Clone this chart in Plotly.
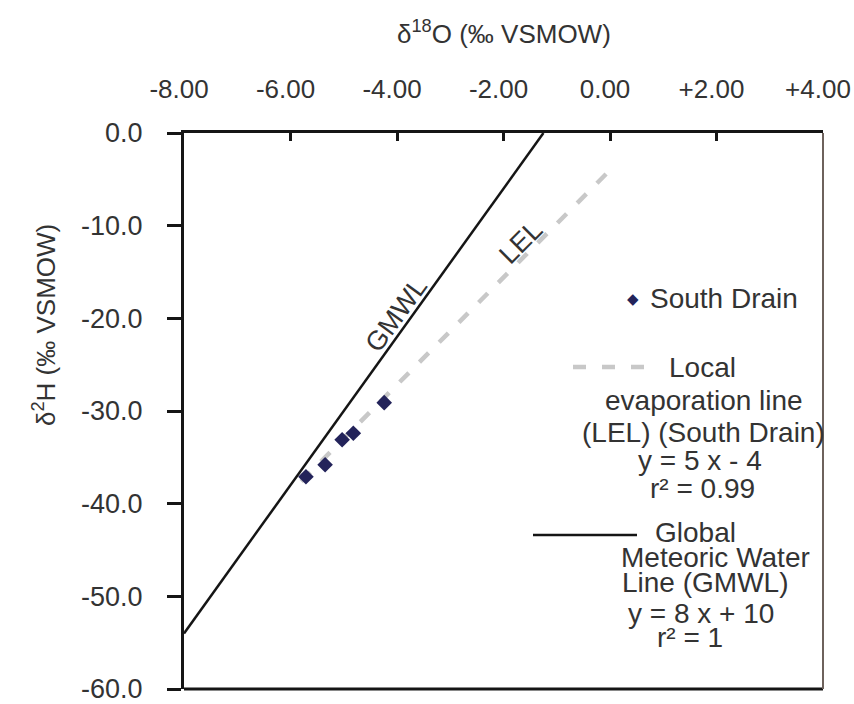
import plotly.graph_objects as go

# ---- data ----
drain_x = [-4.24, -4.82, -5.03, -5.35, -5.71]
drain_y = [-29.1, -32.4, -33.1, -35.8, -37.1]

gmwl_x = [-8.0, -1.25]
gmwl_y = [-54.0, 0.0]

lel_x = [-5.8, 0.0]
lel_y = [-37.6, -4.0]

x_tickvals = [-8, -6, -4, -2, 0, 2, 4]
x_ticktext = ["-8.00", "-6.00", "-4.00", "-2.00", "0.00", "+2.00", "+4.00"]
y_tickvals = [0, -10, -20, -30, -40, -50, -60]
y_ticktext = ["0.0", "-10.0", "-20.0", "-30.0", "-40.0", "-50.0", "-60.0"]

legend_drain = "South Drain"
legend_lel = ["Local", "evaporation line", "(LEL) (South Drain)", "y = 5 x - 4", "r\u00b2 = 0.99"]
legend_gmwl = ["Global", "Meteoric Water", "Line (GMWL)", "y = 8 x + 10", "r\u00b2 = 1"]

# ---- layout geometry ----
W, H = 854, 704
L, R, T, B = 184, 31, 133, 15
PW, PH = W - L - R, H - T - B


def px(x):
    return (x - L) / PW


def py(y):
    return (H - B - y) / PH


FONT = "Liberation Sans, Arial, sans-serif"
TXT = "#333333"

fig = go.Figure()
fig.add_trace(go.Scatter(x=gmwl_x, y=gmwl_y, mode="lines",
                         line=dict(color="#151515", width=2.5), showlegend=False,
                         cliponaxis=False))
fig.add_trace(go.Scatter(x=lel_x, y=lel_y, mode="lines",
                         line=dict(color="#c8c8c8", width=4.5, dash="13px,15px"),
                         showlegend=False))
fig.add_trace(go.Scatter(x=drain_x, y=drain_y, mode="markers",
                         marker=dict(symbol="diamond", size=12, color="#23235a"),
                         showlegend=False))


def note(text, x, y, size=28, color=TXT, angle=0, ref="paper", family=FONT):
    return dict(text=text, x=x, y=y, xref=ref, yref=ref, showarrow=False,
                xanchor="center", yanchor="middle", textangle=angle,
                font=dict(size=size, color=color, family=family))


ann = []
# axis titles
ann.append(note("\u03b4<sup>18</sup>O (\u2030 VSMOW)", 0.5, py(32), size=26))
ann.append(note("\u03b4<sup>2</sup>H (\u2030 VSMOW)", px(44), py(325), size=26, angle=-90))
# line labels
ann.append(dict(note("GMWL", -4.02, -19.6, size=27, angle=-54), xref="x", yref="y"))
ann.append(dict(note("LEL", -1.67, -11.8, size=27, angle=-45), xref="x", yref="y"))

# legend texts
ann.append(note("\u25c6", px(633), py(299), size=15, color="#23235a", family="DejaVu Sans"))
ann.append(note(legend_drain, px(724), py(298)))
lel_pos = [(702, 367), (704, 400), (703, 432), (700, 460), (702, 488)]
for t, (cx, cy) in zip(legend_lel, lel_pos):
    ann.append(note(t, px(cx), py(cy)))
gm_pos = [(695, 532), (715, 557), (705, 582), (701, 613), (690, 637)]
for t, (cx, cy) in zip(legend_gmwl, gm_pos):
    ann.append(note(t, px(cx), py(cy)))

shapes = [
    # legend samples
    dict(type="line", xref="paper", yref="paper", x0=px(573), x1=px(645), y0=py(367), y1=py(367),
         line=dict(color="#c8c8c8", width=4.5, dash="13px,16px")),
    dict(type="line", xref="paper", yref="paper", x0=px(533), x1=px(637), y0=py(535), y1=py(535),
         line=dict(color="#151515", width=2.5)),
    # bottom and right frame
    dict(type="line", xref="paper", yref="paper", x0=0, x1=1, y0=0, y1=0,
         line=dict(color="#151515", width=3)),
    dict(type="line", xref="paper", yref="paper", x0=1, x1=1, y0=0, y1=1,
         line=dict(color="#6e625c", width=2)),
]

fig.update_layout(
    width=W, height=H,
    margin=dict(l=L, r=R, t=T, b=B, autoexpand=False),
    paper_bgcolor="white", plot_bgcolor="white",
    annotations=ann, shapes=shapes,
    font=dict(family=FONT, color=TXT),
    xaxis=dict(range=[-8, 4.0001], side="top", tickvals=x_tickvals, ticktext=x_ticktext,
               showgrid=False, zeroline=False, showline=True, linecolor="#151515",
               linewidth=3, ticks="inside", ticklen=8, tickwidth=3, tickcolor="#151515",
               tickfont=dict(size=26, color=TXT, family=FONT), ticklabelstandoff=22,
               ticklabelshift=-5, ticklabeloverflow="allow", automargin=False),
    yaxis=dict(range=[-60.0001, 0.0001], tickvals=y_tickvals, ticktext=y_ticktext,
               showgrid=False, zeroline=False, showline=True, linecolor="#151515",
               linewidth=3, ticks="outside", ticklen=14, tickwidth=3, tickcolor="#151515",
               tickfont=dict(size=27, color=TXT, family=FONT), ticklabelstandoff=19,
               ticklabeloverflow="allow", automargin=False),
)

fig.write_html("out.html")
